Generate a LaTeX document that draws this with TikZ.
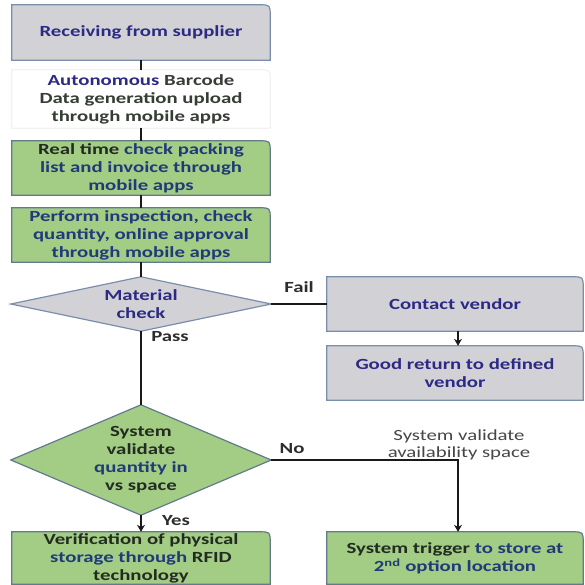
\documentclass[tikz,border=0pt]{standalone}
\usepackage{fontspec}
\setmainfont{Carlito}[FakeStretch=1.34]
\usetikzlibrary{arrows.meta,calc}
\pgfdeclarelayer{bg}
\pgfsetlayers{bg,main}
\definecolor{navy}{RGB}{44,42,132}
\definecolor{darktxt}{RGB}{34,44,34}
\definecolor{bluetxt}{RGB}{32,58,122}
\definecolor{labtxt}{RGB}{45,45,45}
\definecolor{softtxt}{RGB}{70,70,70}
\definecolor{grayfill}{RGB}{210,210,214}
\definecolor{grayline}{RGB}{122,142,172}
\definecolor{greenfill}{RGB}{163,204,133}
\definecolor{greenline}{RGB}{98,122,140}
\definecolor{wireclr}{RGB}{25,25,25}
\newcommand\onecornerbox[3]{%
  \path[fill=#2,draw=#3,line width=1.2pt]
    (#1.south west) -- (#1.north west) -- ($(#1.north east)+(-11,0)$)
    .. controls (#1.north east) .. ($(#1.north east)+(0,11)$)
    -- (#1.south east) -- cycle;}
\newcommand\diamondshape[3]{%
  \path[fill=#2,draw=#3,line width=1.2pt]
    (#1.north) -- (#1.east) -- (#1.south) -- (#1.west) -- cycle;}
\begin{document}
\begin{tikzpicture}[x=1pt,y=-1pt,
  txt/.style={font=\fontsize{15.5}{18}\selectfont\bfseries, align=center, inner sep=0pt},
  boxnode/.style={txt, minimum width=258pt, minimum height=54pt},
  widebox/.style={txt, minimum width=256pt, minimum height=54pt},
  lab/.style={font=\fontsize{15.5}{18}\selectfont\bfseries, text=labtxt, inner sep=0pt},
  wire/.style={draw=wireclr, line width=2.4pt},
  thinwire/.style={draw=wireclr, line width=2pt},
  arrowwire/.style={draw=wireclr, line width=2pt, -{Stealth[length=7pt,width=8pt]}}]
\useasboundingbox (0,0) rectangle (584,585);

% nodes
\node[boxnode, minimum height=55pt, text=navy] (r1) at (141,32.5) {Receiving from supplier};
\node[boxnode, minimum height=58pt, text=darktxt!80!gray] (r2) at (141,99)
  {\textcolor{navy}{Autonomous} Barcode\\Data generation upload\\through mobile apps};
\node[boxnode, text=bluetxt] (r3) at (141,168)
  {\textcolor{darktxt}{Real time} check packing\\list and invoice through\\mobile apps};
\node[boxnode, text=bluetxt] (r4) at (141,235)
  {Perform inspection, check\\quantity, online approval\\through mobile apps};
\node[txt, minimum width=260pt, minimum height=54pt, text=navy] (d1) at (141,304) {Material\\check};
\node[widebox, text=navy] (cv) at (455,304) {Contact vendor};
\node[widebox, text=navy] (gr) at (455,373) {Good return to defined\\vendor};
\node[txt, minimum width=260pt, minimum height=110pt, text=darktxt] (d2) at (141,460)
  {System\\validate\\\textcolor{bluetxt}{quantity in}\\vs space};
\node[boxnode, minimum height=52pt, text=darktxt] (vf) at (141,558)
  {Verification of physical\\\textcolor{bluetxt}{storage through} RFID\\technology};
\node[widebox, minimum height=52pt, text=darktxt] (st) at (455,558)
  {System trigger \textcolor{bluetxt}{to store at}\\\textcolor{bluetxt}{2\textsuperscript{nd} option location}};

% labels
\node[lab] (lfail) at (299,287) {Fail};
\node[lab] (lpass) at (170,337) {Pass};
\node[lab] (lno) at (292,449) {No};
\node[lab] (lyes) at (176,521) {Yes};
\node[font=\fontsize{15.5}{17.5}\selectfont, text=softtxt, align=center, inner sep=0pt] (lsys) at (459,445)
  {System validate\\availability space};

\begin{pgfonlayer}{bg}
\fill[white] (0,0) rectangle (584,585);
\onecornerbox{r1}{grayfill}{grayline}
\onecornerbox{r2}{white}{gray!10}
\onecornerbox{r3}{greenfill}{greenline}
\onecornerbox{r4}{greenfill}{greenline}
\diamondshape{d1}{grayfill}{grayline}
\onecornerbox{cv}{grayfill}{grayline}
\onecornerbox{gr}{grayfill}{grayline}
\diamondshape{d2}{greenfill}{greenline}
\onecornerbox{vf}{greenfill}{greenline}
\onecornerbox{st}{greenfill}{greenline}
\end{pgfonlayer}

% connectors
\draw[wire] (r1.south) -- (r2.north);
\draw[wire] (r2.south) -- (r3.north);
\draw[wire] (r3.south) -- (r4.north);
\draw[wire] (r4.south) -- (d1.north);
\draw[thinwire] (d1.east) -- (cv.west);
\draw[arrowwire] ($(cv.south)+(3,0)$) -- ($(gr.north)+(3,0)$);
\draw[wire] (d1.south) -- (d2.north);
\draw[arrowwire] (d2.east) -| ($(st.north)+(3,0)$);
\draw[arrowwire] (d2.south) -- (vf.north);
\end{tikzpicture}
\end{document}
